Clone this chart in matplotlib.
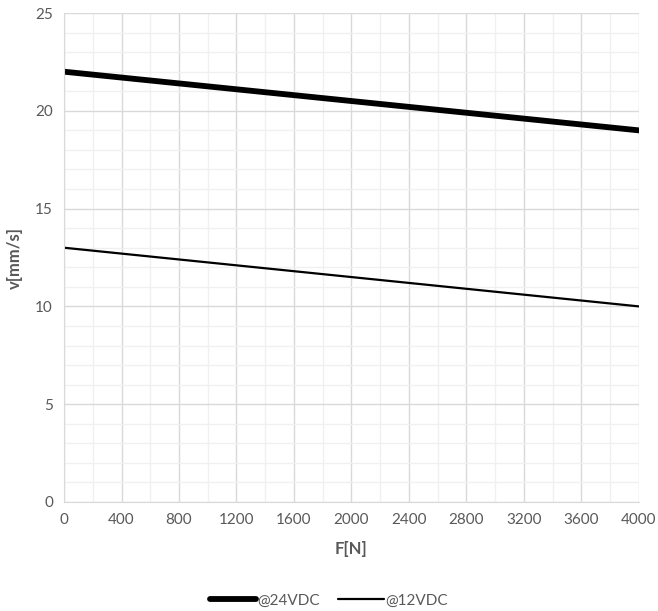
import matplotlib
matplotlib.use("Agg")
import matplotlib.pyplot as plt
from matplotlib.ticker import MultipleLocator

plt.rcParams['font.family'] = ['Lato', 'DejaVu Sans']

# data
force = [0, 4000]
v_24vdc = [22, 19]
v_12vdc = [13, 10]
x_ticks = list(range(0, 4001, 400))
y_ticks = [0, 5, 10, 15, 20, 25]

fig = plt.figure(figsize=(6.58, 6.11), dpi=100)
ax = fig.add_axes([0.0973, 0.1784, 0.8737, 0.8003])

ax.plot(force, v_24vdc, color='black', lw=4.2, solid_capstyle='round', label='@24VDC')
ax.plot(force, v_12vdc, color='black', lw=1.6, solid_capstyle='round', label='@12VDC')

ax.set_xlim(0, 4000)
ax.set_ylim(0, 25)
ax.set_xticks(x_ticks)
ax.set_yticks(y_ticks)
ax.xaxis.set_minor_locator(MultipleLocator(200))
ax.yaxis.set_minor_locator(MultipleLocator(1))
ax.grid(which='major', color='#d9d9d9', lw=1.0)
ax.grid(which='minor', color='#f0f0f0', lw=1.0)
ax.set_axisbelow(True)

for s in ['top', 'right']:
    ax.spines[s].set_visible(False)
ax.spines['left'].set_color('#d9d9d9')
ax.spines['bottom'].set_color('#d9d9d9')
ax.tick_params(which='both', length=0, labelsize=11, labelcolor='#595959', pad=8)

ax.set_xlabel('F[N]', fontsize=12, fontweight='bold', color='#595959', labelpad=10)
ax.set_ylabel('v[mm/s]', fontsize=12, fontweight='bold', color='#595959', labelpad=9)

fig.legend(loc='center', bbox_to_anchor=(0.5, 0.017), ncol=2, frameon=False,
           fontsize=11, labelcolor='#595959', handlelength=3.0, handletextpad=0.1,
           columnspacing=1.2)

fig.savefig('out.png', dpi=100)
